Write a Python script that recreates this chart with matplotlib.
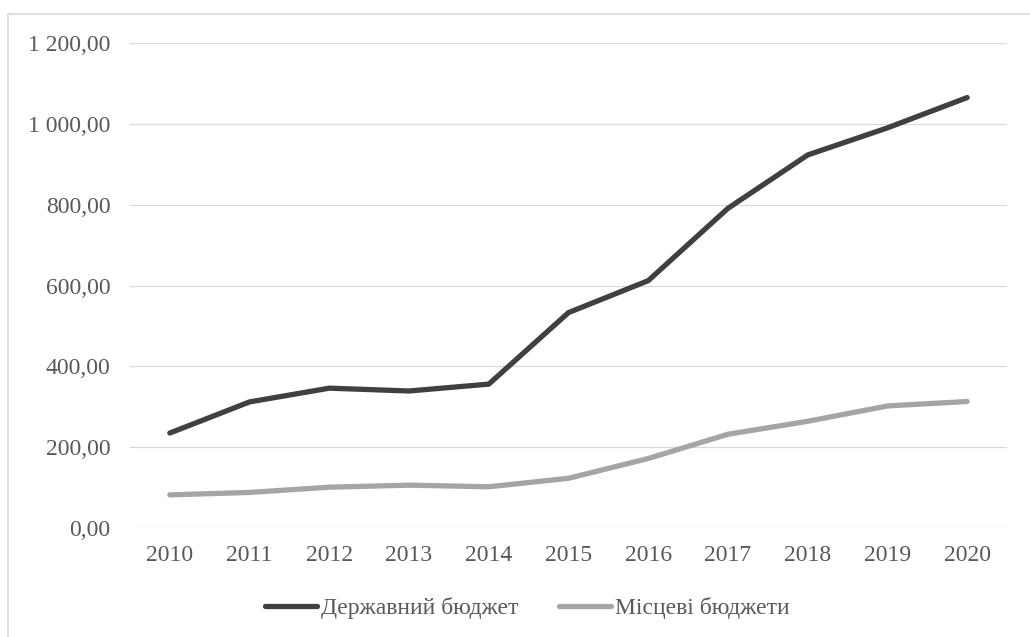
import matplotlib.pyplot as plt
from matplotlib.patches import Rectangle
from matplotlib.ticker import FuncFormatter

plt.rcParams['font.family'] = 'serif'
plt.rcParams['font.serif'] = ['Liberation Serif', 'DejaVu Serif']

years = ['2010', '2011', '2012', '2013', '2014', '2015', '2016', '2017', '2018', '2019', '2020']
derzhavnyi = [235, 312, 346, 339, 356, 533, 612, 791, 923, 990, 1065]
mistsevi = [82, 88, 101, 106, 102, 123, 172, 232, 264, 302, 313]

labels = ['Державний бюджет', 'Місцеві бюджети']
colors = ['#404040', '#a5a5a5']
text_col = '#595959'

fig = plt.figure(figsize=(10.3, 6.37), dpi=100)
ax = fig.add_axes([0.1262, 0.1711, 0.8515, 0.7614])

x = range(len(years))
ax.plot(x, derzhavnyi, color=colors[0], lw=3.8, solid_capstyle='round', solid_joinstyle='round', label=labels[0])
ax.plot(x, mistsevi, color=colors[1], lw=3.8, solid_capstyle='round', solid_joinstyle='round', label=labels[1])

ax.set_xlim(-0.5, len(years) - 0.5)
ax.set_ylim(0, 1200)
ax.set_yticks(range(0, 1201, 200))
ax.set_xticks(list(x))
ax.set_xticklabels(years)


def fmt(v, pos):
    s = '{:,.2f}'.format(v)
    return s.replace(',', ' ').replace('.', ',')


ax.yaxis.set_major_formatter(FuncFormatter(fmt))
ax.grid(axis='y', color='#d9d9d9', lw=0.9)
ax.set_axisbelow(True)
for sp in ax.spines.values():
    sp.set_visible(False)
ax.tick_params(length=0, labelsize=17, labelcolor=text_col)
ax.tick_params(axis='y', pad=14)
ax.tick_params(axis='x', pad=12)

leg = fig.legend(loc='center', bbox_to_anchor=(0.512, 0.045), ncol=2, frameon=False,
                 fontsize=17, handlelength=2.2, handletextpad=0.2, columnspacing=1.7)
for t in leg.get_texts():
    t.set_color(text_col)

# рамка діаграми
fig.patches.append(Rectangle((8 / 1030, -0.05), 1.1, 1 - 14 / 637 + 0.05, transform=fig.transFigure,
                             fill=False, edgecolor='#d9d9d9', lw=1.2))

fig.savefig('out.png', dpi=100)
